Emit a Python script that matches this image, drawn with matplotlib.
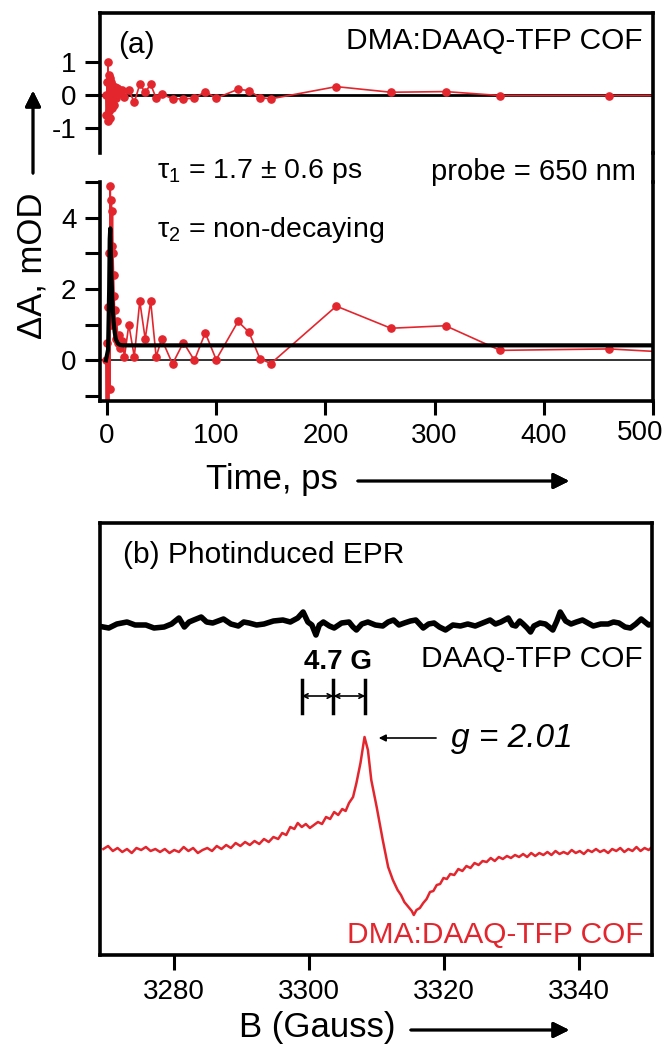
import matplotlib
matplotlib.use('Agg')
from matplotlib import pyplot as plt
from matplotlib.lines import Line2D
import numpy as np

plt.rcParams['font.family'] = ['Liberation Sans', 'DejaVu Sans']
plt.rcParams['mathtext.fontset'] = 'custom'
plt.rcParams['mathtext.rm'] = 'Liberation Sans'
plt.rcParams['mathtext.it'] = 'Liberation Sans:italic'
plt.rcParams['mathtext.default'] = 'regular'
plt.rcParams['axes.unicode_minus'] = False

# ---- (a) transient absorption, probe 650 nm ----
time_ps = [-1.0, -0.5, 0.0, 0.5, 1.0, 1.5, 2.0, 2.5, 3.0, 3.5, 4.0, 4.5, 5.0, 5.5,
           6.0, 6.5, 7.0, 8.0, 9.0, 10.0, 11.0, 12.0, 14.0, 16.0,
           20, 25, 30, 35, 40, 45, 50, 60, 70, 80, 90, 100, 120, 130, 140, 150,
           210, 260, 310, 360, 460, 560]
dA_mOD = [0.0, -1.3, 0.5, -1.3, 1.5, -1.3, 3.0, -0.8, 4.9, 1.0, 4.5, 3.2, 4.2, 3.0,
          2.4, 1.8, 1.4, 0.6, 1.1, 0.5, 0.7, 0.35, 0.55, 0.1,
          1.0, 0.1, 1.66, 0.6, 1.66, 0.1, 0.6, -0.1, 0.5, 0.0, 0.77, 0.02, 1.09, 0.79, 0.05, -0.09,
          1.52, 0.9, 0.97, 0.28, 0.32, 0.15]
resid_mOD = [0.0, -0.6, 0.4, -0.8, 1.0, -0.5, 0.6, -0.7, 0.5, -0.3, 0.4, -0.4, 0.3, 0.2,
             -0.3, 0.1, 0.25, -0.1, 0.2, 0.19, 0.1, 0.05, 0.15, -0.05,
             0.15, -0.23, 0.32, 0.08, 0.32, -0.1, 0.03, -0.12, -0.12, -0.1, 0.1, -0.1, 0.17, 0.13, -0.08, -0.12,
             0.25, 0.08, 0.1, -0.02, -0.02, -0.02]

fit_t = [-1.0, 1.0, 2.0, 2.5, 3.0, 4.0, 5.0, 6.0, 7.0, 8.0, 10.0, 12.0, 15.0, 500.0]
fit_dA = [0.0, 0.3, 2.0, 3.4, 3.7, 2.4, 1.6, 1.1, 0.8, 0.6, 0.47, 0.43, 0.42, 0.42]

time_ticks = [0, 100, 200, 300, 400, 500]

# ---- (b) photoinduced EPR ----
B_dark = [3269.5, 3270.3, 3271.5, 3273.0, 3274.2, 3275.8, 3277.0, 3278.5, 3279.6, 3280.7,
          3281.5, 3282.2, 3282.9, 3284.0, 3284.8, 3285.7, 3286.5, 3287.3, 3288.4, 3289.5,
          3290.3, 3291.1, 3292.2, 3293.3, 3294.7, 3296.1, 3297.2, 3298.3, 3299.1, 3299.8,
          3300.4, 3301.0, 3301.5, 3302.1, 3303.0, 3303.7, 3304.8, 3305.9, 3306.5, 3307.0,
          3307.8, 3308.7, 3309.8, 3310.9, 3311.7, 3312.5, 3313.3, 3314.1, 3315.0, 3315.8,
          3316.9, 3317.7, 3318.5, 3319.3, 3320.2, 3321.3, 3322.4, 3323.5, 3324.6, 3325.7,
          3326.8, 3327.6, 3328.4, 3329.5, 3330.1, 3330.6, 3331.2, 3331.7, 3332.3, 3332.8,
          3333.3, 3334.2, 3335.0, 3336.1, 3336.7, 3337.2, 3338.0, 3338.8, 3339.6, 3340.5,
          3341.3, 3342.1, 3343.2, 3344.3, 3345.1, 3345.9, 3346.8, 3347.6, 3348.4, 3349.2,
          3350.3, 3350.8]
sig_dark = [3.28, 3.27, 3.31, 3.33, 3.30, 3.30, 3.27, 3.28, 3.31, 3.37,
            3.28, 3.33, 3.35, 3.38, 3.33, 3.32, 3.34, 3.36, 3.31, 3.29,
            3.33, 3.32, 3.30, 3.31, 3.34, 3.35, 3.33, 3.37, 3.43, 3.33,
            3.30, 3.20, 3.30, 3.33, 3.29, 3.27, 3.32, 3.33, 3.28, 3.25,
            3.31, 3.33, 3.30, 3.29, 3.33, 3.35, 3.30, 3.32, 3.34, 3.35,
            3.27, 3.31, 3.32, 3.28, 3.25, 3.30, 3.29, 3.31, 3.29, 3.32,
            3.35, 3.31, 3.33, 3.37, 3.30, 3.29, 3.34, 3.31, 3.27, 3.23,
            3.29, 3.32, 3.31, 3.25, 3.34, 3.43, 3.34, 3.31, 3.33, 3.35,
            3.32, 3.29, 3.31, 3.31, 3.33, 3.32, 3.28, 3.27, 3.31, 3.36,
            3.30, 3.31]

B_light = [3269.5, 3270.2, 3270.9, 3271.6, 3272.3, 3273.0, 3273.7, 3274.4, 3275.1, 3275.8,
           3276.5, 3277.2, 3277.9, 3278.6, 3279.3, 3280.0, 3280.7, 3281.4, 3282.1, 3282.8,
           3283.5, 3284.2, 3284.9, 3285.6, 3286.3, 3287.0, 3287.7, 3288.4, 3289.1, 3289.8,
           3290.5, 3291.2, 3291.9, 3292.6, 3293.3, 3294.0, 3294.7, 3295.4, 3296.0, 3296.6,
           3297.2, 3297.8, 3298.3, 3298.9, 3299.5, 3300.1, 3300.7, 3301.3, 3301.9, 3302.5,
           3303.1, 3303.7, 3304.3, 3304.9, 3305.4, 3305.9, 3306.5, 3307.0, 3307.6, 3308.2,
           3308.7, 3309.2, 3310.0, 3310.9, 3311.7, 3312.4, 3313.1, 3313.6, 3314.1, 3314.7,
           3315.2, 3315.5, 3315.9, 3316.4, 3316.9, 3317.4, 3317.9, 3318.4, 3318.9, 3319.4,
           3319.9, 3320.4, 3320.9, 3321.5, 3322.1, 3322.7, 3323.3, 3323.9, 3324.5, 3325.1,
           3325.7, 3326.3, 3326.9, 3327.5, 3328.1, 3328.7, 3329.3, 3329.9, 3330.5, 3331.1,
           3331.7, 3332.3, 3332.9, 3333.5, 3334.1, 3334.7, 3335.3, 3335.9, 3336.5, 3337.1,
           3337.7, 3338.3, 3338.9, 3339.5, 3340.1, 3340.7, 3341.3, 3341.9, 3342.5, 3343.1,
           3343.7, 3344.3, 3344.9, 3345.5, 3346.1, 3346.7, 3347.3, 3347.9, 3348.5, 3349.1,
           3349.7, 3350.3, 3350.8]
sig_light = [1.06, 1.09, 1.04, 1.07, 1.03, 1.06, 1.02, 1.07, 1.05, 1.08,
             1.04, 1.06, 1.03, 1.06, 1.02, 1.05, 1.03, 1.08, 1.04, 1.07,
             1.02, 1.05, 1.07, 1.04, 1.09, 1.06, 1.10, 1.07, 1.12, 1.09,
             1.13, 1.10, 1.14, 1.11, 1.16, 1.13, 1.18, 1.16, 1.22, 1.20,
             1.28, 1.26, 1.32, 1.28, 1.31, 1.27, 1.30, 1.33, 1.31, 1.38,
             1.36, 1.43, 1.40, 1.46, 1.44, 1.52, 1.58, 1.72, 1.92, 2.18,
             2.05, 1.75, 1.48, 1.15, 0.88, 0.75, 0.65, 0.60, 0.53, 0.48,
             0.44, 0.40, 0.45, 0.47, 0.52, 0.56, 0.63, 0.64, 0.70, 0.71,
             0.77, 0.76, 0.81, 0.80, 0.86, 0.84, 0.89, 0.87, 0.92, 0.90,
             0.94, 0.93, 0.97, 0.94, 0.98, 0.96, 0.99, 0.97, 1.00, 0.98,
             1.01, 0.98, 1.02, 0.99, 1.02, 1.00, 1.03, 1.00, 1.04, 1.01,
             1.03, 1.01, 1.05, 1.02, 1.04, 1.01, 1.05, 1.03, 1.06, 1.03,
             1.05, 1.02, 1.06, 1.04, 1.07, 1.03, 1.06, 1.04, 1.08, 1.04,
             1.07, 1.05, 1.08]

split_G = [3298.9, 3303.6, 3308.3]
B_ticks = [3280, 3300, 3320, 3340]

W, H = 670, 1048
red = '#e3262e'
spine_w = 2.6
txt = 21.5
lab = 25


def fxy(px, py):
    return (px / W, 1 - py / H)


def styleSpines(ax, sides):
    for s in ['top', 'bottom', 'left', 'right']:
        ax.spines[s].set_visible(s in sides)
        ax.spines[s].set_linewidth(spine_w)


def bigArrow(x0, y0, x1, y1):
    fig.add_artist(plt.annotate('', xy=fxy(x1, y1), xytext=fxy(x0, y0),
                                xycoords='figure fraction', textcoords='figure fraction',
                                arrowprops=dict(arrowstyle='-|>', lw=2, color='k',
                                                mutation_scale=24)))


fig = plt.figure(figsize=(6.7, 10.48), dpi=100)

ax_res = fig.add_axes([100 / W, 1 - 153 / H, 553 / W, 140 / H])
ax_tr = fig.add_axes([100 / W, 1 - 401 / H, 553 / W, 219 / H])
ax_epr = fig.add_axes([100 / W, 1 - 955 / H, 552 / W, 432 / H])

# residuals
styleSpines(ax_res, ['top', 'left', 'right'])
ax_res.axhline(0, color='k', lw=2, zorder=1)
ax_res.plot(time_ps, resid_mOD, '-o', color=red, lw=1.2, ms=5.2, zorder=2)
ax_res.set_xlim(-6.4, 500)
ax_res.set_ylim(-1.76, 2.48)
ax_res.set_yticks([-1, 0, 1])
ax_res.tick_params(axis='y', direction='out', length=11, width=2.2, labelsize=20, pad=6)
ax_res.tick_params(axis='x', bottom=False, labelbottom=False)
ax_res.text(0.033, 0.77, '(a)', transform=ax_res.transAxes, fontsize=txt, va='center')
ax_res.text(0.982, 0.80, 'DMA:DAAQ-TFP COF', transform=ax_res.transAxes, fontsize=txt,
            ha='right', va='center')

# kinetic trace
styleSpines(ax_tr, ['bottom', 'left', 'right'])
ax_tr.axhline(0, color='#333333', lw=1.4, zorder=1)
ax_tr.plot(time_ps, dA_mOD, '-o', color=red, lw=1.2, ms=5.2, zorder=2)
ax_tr.plot(fit_t, fit_dA, color='k', lw=3, zorder=3)
ax_tr.set_xlim(-6.4, 500)
ax_tr.set_ylim(-1.14, 4.98)
ax_tr.set_yticks([0, 2, 4])
ax_tr.set_yticks([-1, 1, 3, 5], minor=True)
ax_tr.set_xticks(time_ticks)
# last label is pulled inside the frame, as in the original
ax_tr.set_xticklabels([str(t) for t in time_ticks[:-1]] + [''])
ax_tr.tick_params(axis='both', which='both', direction='out', length=11, width=2.2,
                  labelsize=20, pad=6)
ax_tr.tick_params(axis='x', length=10)
fig.text(*fxy(640, 433), str(time_ticks[-1]), fontsize=20, ha='center', va='center')

# gap of the right frame between the two stacked axes
fig.add_artist(Line2D([653 / W, 653 / W], [1 - 153 / H, 1 - 182 / H],
                      transform=fig.transFigure, color='k', lw=spine_w))

fig.text(*fxy(157, 172), r'τ$_{1}$ = 1.7 ± 0.6 ps', fontsize=20.5, va='center')
fig.text(*fxy(636, 172), 'probe = 650 nm', fontsize=21, va='center', ha='right')
fig.text(*fxy(157, 230), r'τ$_{2}$ = non-decaying', fontsize=20.5, va='center')

fig.text(*fxy(32, 266), 'ΔA, mOD', rotation=90, fontsize=lab, ha='center', va='center')
bigArrow(33, 176, 33, 88)
fig.text(*fxy(272, 480), 'Time, ps', fontsize=lab, ha='center', va='center')
bigArrow(355, 481, 572, 481)

# EPR
styleSpines(ax_epr, ['top', 'bottom', 'left', 'right'])
ax_epr.plot(B_dark, sig_dark, color='k', lw=4, solid_joinstyle='round')
ax_epr.plot(B_light, sig_light, color=red, lw=1.8)
ax_epr.set_xlim(3269, 3350.8)
ax_epr.set_ylim(0, 4.32)
ax_epr.set_yticks([])
ax_epr.set_xticks(B_ticks)
ax_epr.tick_params(axis='x', direction='out', length=11, width=2.2, labelsize=20, pad=6)

ax_epr.text(0.042, 0.926, '(b) Photinduced EPR', transform=ax_epr.transAxes, fontsize=txt,
            va='center')
ax_epr.text(0.984, 0.685, 'DAAQ-TFP COF', transform=ax_epr.transAxes, fontsize=txt,
            ha='right', va='center')
ax_epr.text(0.984, 0.046, 'DMA:DAAQ-TFP COF', transform=ax_epr.transAxes, fontsize=txt,
            ha='right', va='center', color=red)
ax_epr.text(split_G[1] + 0.6, 2.93, '4.7 G', fontsize=20, fontweight='bold',
            ha='center', va='center')
for b in split_G:
    ax_epr.plot([b, b], [2.42, 2.75], color='k', lw=2.5)
for b0, b1 in zip(split_G[:-1], split_G[1:]):
    ax_epr.annotate('', xy=(b1, 2.59), xytext=(b0, 2.59),
                    arrowprops=dict(arrowstyle='<->', lw=1.2, color='k',
                                    shrinkA=0, shrinkB=0, mutation_scale=8))
ax_epr.annotate('', xy=(3310.3, 2.17), xytext=(3318.8, 2.17),
                arrowprops=dict(arrowstyle='-|>', lw=1.2, color='k',
                                shrinkA=0, shrinkB=0, mutation_scale=10))
ax_epr.text(3321.0, 2.17, 'g = 2.01', fontsize=24, style='italic', va='center')

fig.text(*fxy(317, 1028), 'B (Gauss)', fontsize=lab, ha='center', va='center')
bigArrow(408, 1030, 572, 1030)

plt.savefig('out.png', dpi=100)
